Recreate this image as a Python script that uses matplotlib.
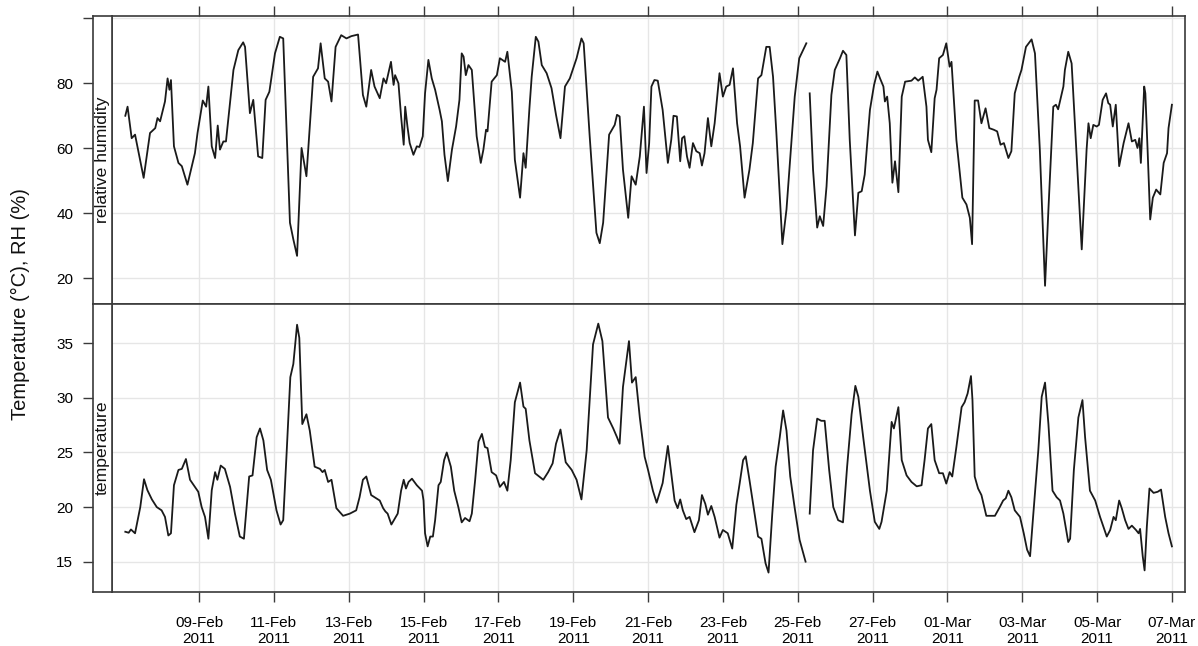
import numpy as np
import matplotlib
matplotlib.use("Agg")
import matplotlib.pyplot as plt
import matplotlib.dates as mdates

plt.rcParams['font.family'] = ['Liberation Sans', 'DejaVu Sans']

# time in days after 07-Feb-2011 00:00 (NaN marks the data gap on 25-Feb)
rh_days = [0.03, 0.09, 0.20, 0.29, 0.52, 0.69, 0.83, 0.89, 0.96, 1.09, 1.16, 1.21, 1.25, 1.33, 1.45, 1.54,
           1.69, 1.89, 1.96, 2.10, 2.19, 2.25, 2.34, 2.43, 2.50, 2.56, 2.65, 2.72, 2.92, 3.05, 3.18, 3.23,
           3.36, 3.45, 3.58, 3.69, 3.78, 3.88, 4.03, 4.16, 4.25, 4.43, 4.52, 4.62, 4.74, 4.87, 5.05, 5.18,
           5.25, 5.36, 5.45, 5.54, 5.65, 5.80, 5.94, 6.07, 6.25, 6.38, 6.47, 6.60, 6.69, 6.83, 6.93, 7.00,
           7.13, 7.20, 7.24, 7.33, 7.40, 7.47, 7.51, 7.57, 7.63, 7.73, 7.82, 7.89, 7.98, 8.04, 8.13, 8.22,
           8.31, 8.43, 8.49, 8.56, 8.65, 8.76, 8.87, 8.96, 9.02, 9.07, 9.13, 9.20, 9.29, 9.42, 9.53, 9.60,
           9.67, 9.71, 9.82, 9.96, 10.04, 10.18, 10.24, 10.36, 10.44, 10.58, 10.67, 10.73, 10.83, 10.89,
           11.00, 11.07, 11.16, 11.29, 11.42, 11.54, 11.66, 11.78, 11.91, 12.09, 12.22, 12.28, 12.44, 12.62,
           12.71, 12.80, 12.96, 13.11, 13.17, 13.24, 13.33, 13.47, 13.56, 13.67, 13.78, 13.89, 13.96, 14.03,
           14.09, 14.17, 14.26, 14.39, 14.53, 14.62, 14.68, 14.77, 14.86, 14.91, 14.97, 15.04, 15.11, 15.20,
           15.29, 15.38, 15.44, 15.51, 15.60, 15.69, 15.78, 15.91, 16.00, 16.09, 16.18, 16.27, 16.38, 16.46,
           16.58, 16.71, 16.80, 16.94, 17.03, 17.16, 17.25, 17.34, 17.43, 17.59, 17.70, 17.83, 17.92, 18.04,
           18.23, 18.27, 18.32, 18.41, 18.52, 18.59, 18.68, 18.77, 18.90, 18.99, 19.13, 19.21, 19.30, 19.39,
           19.53, 19.62, 19.71, 19.79, 19.93, 20.04, 20.13, 20.20, 20.29, 20.33, 20.39, 20.46, 20.53, 20.60,
           20.69, 20.78, 20.87, 21.04, 21.13, 21.22, 21.34, 21.44, 21.48, 21.57, 21.66, 21.71, 21.78, 21.88,
           21.97, 22.06, 22.11, 22.24, 22.40, 22.51, 22.60, 22.66, 22.73, 22.82, 22.91, 23.02, 23.12, 23.24,
           23.33, 23.42, 23.51, 23.63, 23.71, 23.80, 23.92, 23.98, 24.10, 24.25, 24.34, 24.47, 24.61, 24.70,
           24.83, 24.90, 24.96, 25.10, 25.14, 25.23, 25.32, 25.46, 25.59, 25.72, 25.77, 25.83, 25.90, 25.99,
           26.05, 26.15, 26.24, 26.30, 26.35, 26.42, 26.50, 26.59, 26.71, 26.84, 26.93, 27.02, 27.08, 27.13,
           27.17, 27.26, 27.29, 27.35, 27.42, 27.49, 27.58, 27.69, 27.78, 27.87, 27.91, 28.00]
rh_values = [70, 72.8, 63.1, 64.2, 50.9, 64.7, 66.2, 69.3, 68.3, 74.4, 81.5, 78, 81, 60.6, 55.5, 54.5,
             48.8, 58.5, 64.7, 74.7, 72.8, 79, 60.6, 57, 67, 59.6, 62.1, 62.1, 84.1, 90.2, 92.6, 91.2,
             70.8, 74.9, 57.5, 57, 74.9, 77.4, 89.2, 94.3, 93.8, 37.1, 32, 26.9, 60.1, 51.4, 82, 84.6,
             92.3, 81.5, 80.5, 74.4, 91.2, 94.8, 93.8, 94.5, 95, 76.4, 72.8, 84.1, 79, 75.4, 81.5, 80,
             86.6, 79.5, 82.5, 80, 69.8, 61.1, 72.8, 66.7, 61.6, 58, 60.6, 60.4, 63.7, 76.9, 87.2, 81.5,
             78, 71.8, 68.3, 58, 49.9, 59.6, 66.7, 74.9, 89.2, 88.2, 82.5, 85.6, 84.1, 63.7, 55.5, 59.6,
             65.7, 65.2, 80.5, 82.5, 87.7, 86.6, 89.7, 77.4, 56.5, 44.8, 58.5, 54, 72.3, 82,
             94.3, 92.8, 85.6, 83.1, 78.5, 70.3, 63.1, 79, 81.5, 87.7, 93.8, 92.3, 63.7, 34,
             30.8, 37.1, 64.2, 67.2, 70.3, 69.8, 53.4, 38.6, 51.4, 48.8, 57.5, 72.8, 52.4, 61.6,
             79, 81, 80.8, 71.8, 55.5, 62.6, 70, 69.8, 56, 63.1, 63.7, 57.5, 54, 61.6,
             59.1, 58.5, 54.7, 58.5, 69.3, 60.6, 67.7, 83.1, 75.9, 79, 79.5, 84.6, 67.7, 60.6,
             44.8, 53.4, 61.6, 81.5, 82.5, 91.2, 91.2, 82, 64.7, 30.5, 41.2, 61.6, 75.9, 87.7,
             92.3, np.nan, 76.9, 53.4, 35.6, 39.1, 36.1, 48.3, 76.4, 84.1, 87.7, 90, 88.7, 62.6,
             33.2, 46.3, 46.8, 51.9, 71.8, 79.5, 83.6, 81.5, 79, 74.4, 75.9, 67.7, 49.4, 56,
             46.5, 75.9, 80.5, 80.8, 81.8, 80.8, 82, 72.8, 62.6, 58.8, 75.4, 78, 87.7, 88.7,
             92.3, 85.1, 86.6, 62.6, 44.8, 42.7, 38.6, 30.5, 74.7, 74.7, 67.7, 72.3, 66.2, 65.7,
             65.2, 61.1, 61.6, 57, 59.1, 76.9, 82, 84.1, 91.2, 93.5, 89.2, 59.6, 17.7, 41.2,
             72.8, 73.4, 72, 79, 84.1, 89.7, 86.1, 56.5, 28.9, 59.6, 67.7, 63.1, 67.2, 66.7,
             67.2, 74.9, 76.9, 73.9, 73.4, 66.7, 73.4, 54.5, 61.6, 67.7, 62.1, 62.6, 60.1, 63.1,
             55.5, 79, 76.9, 59.6, 38.1, 44.8, 47.3, 45.8, 55.5, 58.5, 66.2, 73.4]

temp_days = [0.03, 0.12, 0.18, 0.29, 0.43, 0.53, 0.62, 0.74, 0.87, 1.00, 1.09, 1.18, 1.25, 1.33, 1.45, 1.54,
             1.65, 1.76, 1.89, 1.98, 2.07, 2.16, 2.25, 2.34, 2.43, 2.49, 2.58, 2.69, 2.83, 2.96, 3.09, 3.20,
             3.34, 3.43, 3.54, 3.63, 3.72, 3.82, 3.92, 4.07, 4.18, 4.25, 4.34, 4.44, 4.52, 4.62, 4.68, 4.76,
             4.87, 4.96, 5.09, 5.23, 5.30, 5.36, 5.45, 5.54, 5.67, 5.85, 6.03, 6.20, 6.29, 6.38, 6.47, 6.60,
             6.74, 6.83, 6.92, 6.98, 7.04, 7.14, 7.24, 7.31, 7.40, 7.47, 7.53, 7.60, 7.69, 7.82, 7.96, 8.00,
             8.04, 8.11, 8.18, 8.25, 8.31, 8.40, 8.46, 8.55, 8.62, 8.73, 8.82, 8.93, 9.02, 9.11, 9.23, 9.29,
             9.38, 9.47, 9.56, 9.64, 9.71, 9.82, 9.94, 10.04, 10.15, 10.24, 10.33, 10.44, 10.58, 10.67, 10.73,
             10.83, 10.98, 11.20, 11.33, 11.45, 11.54, 11.66, 11.80, 11.96, 12.09, 12.22, 12.36, 12.53, 12.67,
             12.78, 12.93, 13.07, 13.17, 13.24, 13.33, 13.42, 13.49, 13.57, 13.67, 13.78, 13.91, 14.00, 14.13,
             14.23, 14.39, 14.53, 14.62, 14.71, 14.79, 14.86, 14.93, 15.02, 15.11, 15.24, 15.36, 15.44, 15.53,
             15.60, 15.69, 15.78, 15.91, 16.00, 16.13, 16.25, 16.36, 16.45, 16.54, 16.61, 16.71, 16.82, 16.94,
             17.03, 17.14, 17.22, 17.32, 17.41, 17.52, 17.61, 17.70, 17.80, 17.92, 18.05, 18.21, 18.27, 18.32,
             18.41, 18.52, 18.63, 18.72, 18.84, 18.95, 19.08, 19.21, 19.32, 19.44, 19.54, 19.62, 19.75, 19.93,
             20.06, 20.18, 20.24, 20.38, 20.51, 20.57, 20.69, 20.78, 20.91, 21.04, 21.18, 21.31, 21.39, 21.48,
             21.57, 21.66, 21.78, 21.88, 21.97, 22.06, 22.13, 22.24, 22.38, 22.46, 22.54, 22.63, 22.67, 22.73,
             22.82, 22.91, 23.04, 23.27, 23.40, 23.49, 23.56, 23.63, 23.71, 23.80, 23.94, 24.04, 24.13, 24.21,
             24.29, 24.43, 24.52, 24.61, 24.70, 24.81, 24.92, 25.01, 25.10, 25.23, 25.28, 25.38, 25.50, 25.61,
             25.68, 25.81, 25.95, 26.08, 26.26, 26.35, 26.44, 26.50, 26.59, 26.66, 26.75, 26.84, 26.93, 27.04,
             27.11, 27.15, 27.22, 27.27, 27.33, 27.40, 27.51, 27.62, 27.71, 27.82, 27.91, 28.00]
temp_values = [17.74, 17.65, 17.95, 17.6, 20.0, 22.55, 21.55, 20.7, 20.0, 19.7, 19.1, 17.4, 17.6, 22.0, 23.4, 23.5,
               24.4, 22.5, 21.85, 21.4, 20.0, 19.1, 17.1, 21.55, 23.2, 22.5, 23.8, 23.5, 21.85, 19.4, 17.3, 17.1,
               22.8, 22.9, 26.4, 27.2, 26.1, 23.4, 22.5, 19.7, 18.4, 18.8, 24.9, 31.9, 33.1, 36.7, 35.5, 27.6,
               28.5, 27.0, 23.7, 23.5, 23.2, 23.4, 22.3, 22.5, 19.9, 19.2, 19.4, 19.7, 20.9, 22.5, 22.8, 21.1,
               20.8, 20.6, 19.9, 19.6, 19.4, 18.4, 19.0, 19.4, 21.5, 22.5, 21.7, 22.3, 22.6, 22.0, 21.5, 20.6,
               17.6, 16.4, 17.3, 17.3, 18.8, 22.0, 22.3, 24.3, 25.0, 23.7, 21.5, 20.0, 18.6, 19.0, 18.7, 19.4,
               22.5, 26.0, 26.7, 25.5, 25.4, 23.2, 22.9, 21.85, 22.3, 21.5, 24.3, 29.6, 31.4, 29.2, 29.0,
               26.1, 23.1, 22.5, 23.2, 24.0, 25.8, 27.1, 24.1, 23.4, 22.5, 20.7, 25.2, 34.9, 36.8,
               35.2, 28.2, 27.2, 26.4, 25.8, 31.0, 33.4, 35.2, 31.4, 31.9, 28.2, 24.6, 23.4, 21.5,
               20.4, 22.2, 25.6, 23.1, 20.6, 19.9, 20.7, 19.7, 18.9, 19.1, 17.7, 18.8, 21.1, 20.3,
               19.3, 20.1, 19.1, 17.2, 17.9, 17.6, 16.2, 20.2, 22.2, 24.3, 24.65, 22.5, 20.0, 17.3,
               17.1, 14.85, 14.0, 19.4, 23.7, 26.4, 28.85, 27.0, 22.8, 19.9, 17.0, 15.0, np.nan, 19.4,
               25.2, 28.1, 27.9, 27.9, 23.4, 20.0, 18.8, 18.6, 23.7, 28.5, 31.1, 30.1, 26.4, 21.5,
               18.65, 18.0, 18.65, 21.5, 27.8, 27.2, 29.15, 24.3, 22.9, 22.3, 21.9, 22.0, 24.3, 27.2,
               27.6, 24.3, 23.1, 23.1, 22.15, 23.2, 22.8, 25.5, 29.15, 29.6, 30.4, 32.0, 29.8, 22.8,
               21.7, 21.1, 19.2, 19.2, 20.0, 20.6, 20.8, 21.5, 20.9, 19.7, 19.1, 17.6, 16.1, 15.5,
               19.1, 25.2, 30.1, 31.4, 27.6, 21.5, 20.9, 20.6, 19.4, 16.8, 17.1, 23.4, 28.2, 29.8,
               26.4, 21.5, 20.6, 19.1, 17.3, 17.9, 19.1, 18.8, 20.6, 19.9, 18.8, 18.0, 18.3, 17.9,
               17.6, 18.0, 15.5, 14.2, 18.2, 21.7, 21.3, 21.4, 21.6, 19.1, 17.6, 16.4]

start = np.datetime64('2011-02-07T00:00')
tick_dates = np.arange(np.datetime64('2011-02-09'), np.datetime64('2011-03-08'), 2)

rh_ticks = [20, 40, 60, 80, 100]
rh_ticklabels = ['20', '40', '60', '80', '']
temp_ticks = [15, 20, 25, 30, 35]


def to_dates(days):
    mins = np.round(np.asarray(days) * 1440).astype('timedelta64[m]')
    return start + mins


W, H = 1198, 646
fig = plt.figure(figsize=(W / 100, H / 100), dpi=100)

strip_l, panel_l, panel_r = 93, 112, 1185
top_t, mid_y, bot_b = 16, 304.3, 591.7
border = '#3a3a3a'
grid_c = '#e6e6e6'


def add_ax(x0, x1, y0, y1):
    return fig.add_axes([x0 / W, 1 - y1 / H, (x1 - x0) / W, (y1 - y0) / H])


panels = [
    (top_t, mid_y, rh_days, rh_values, (12.0, 100.7), rh_ticks, rh_ticklabels, 'relative humidity'),
    (mid_y, bot_b, temp_days, temp_values, (12.25, 38.57), temp_ticks, [str(t) for t in temp_ticks], 'temperature'),
]

xlim = (mdates.date2num(to_dates([-0.326])[0]), mdates.date2num(to_dates([28.35])[0]))

for i, (y0, y1, days, vals, ylim, yt, ytl, name) in enumerate(panels):
    ax = add_ax(panel_l, panel_r, y0, y1)
    st = add_ax(strip_l, panel_l, y0, y1)

    ax.plot(to_dates(days), vals, color='#1a1a1a', lw=1.3, zorder=3)
    ax.set_xlim(xlim)
    ax.set_ylim(ylim)
    ax.set_yticks(yt)
    ax.set_xticks(mdates.date2num(tick_dates))
    ax.grid(True, color=grid_c, lw=1.0, zorder=0)
    ax.tick_params(axis='y', left=False, labelleft=False)
    ax.xaxis.set_major_formatter(mdates.DateFormatter('%d-%b\n%Y'))
    if i == 0:
        ax.tick_params(axis='x', top=True, bottom=False, labeltop=False, labelbottom=False,
                       direction='out', length=7.2, width=1.0, color=border)
    else:
        ax.tick_params(axis='x', top=False, bottom=True, labelbottom=True,
                       direction='out', length=7.2, width=1.0, color=border, pad=10, labelsize=11)
    for sp in ax.spines.values():
        sp.set_color(border)
        sp.set_linewidth(1.2)

    # strip on the left, carries the y axis
    st.set_xlim(0, 1)
    st.set_ylim(ylim)
    st.set_xticks([])
    st.set_yticks(yt)
    st.set_yticklabels(ytl)
    st.tick_params(axis='y', direction='out', length=7.2, width=1.0, color=border, pad=7, labelsize=11)
    for sp in st.spines.values():
        sp.set_color(border)
        sp.set_linewidth(1.2)
    st.text(0.5, 0.5, name, rotation=90, ha='center', va='center', fontsize=12.6,
            transform=st.transAxes, color='#111111')

fig.text(20 / W, 1 - 304 / H, 'Temperature (\u00b0C), RH (%)', rotation=90,
         ha='center', va='center', fontsize=14.5, color='#111111')

fig.savefig('out.png', dpi=100)
